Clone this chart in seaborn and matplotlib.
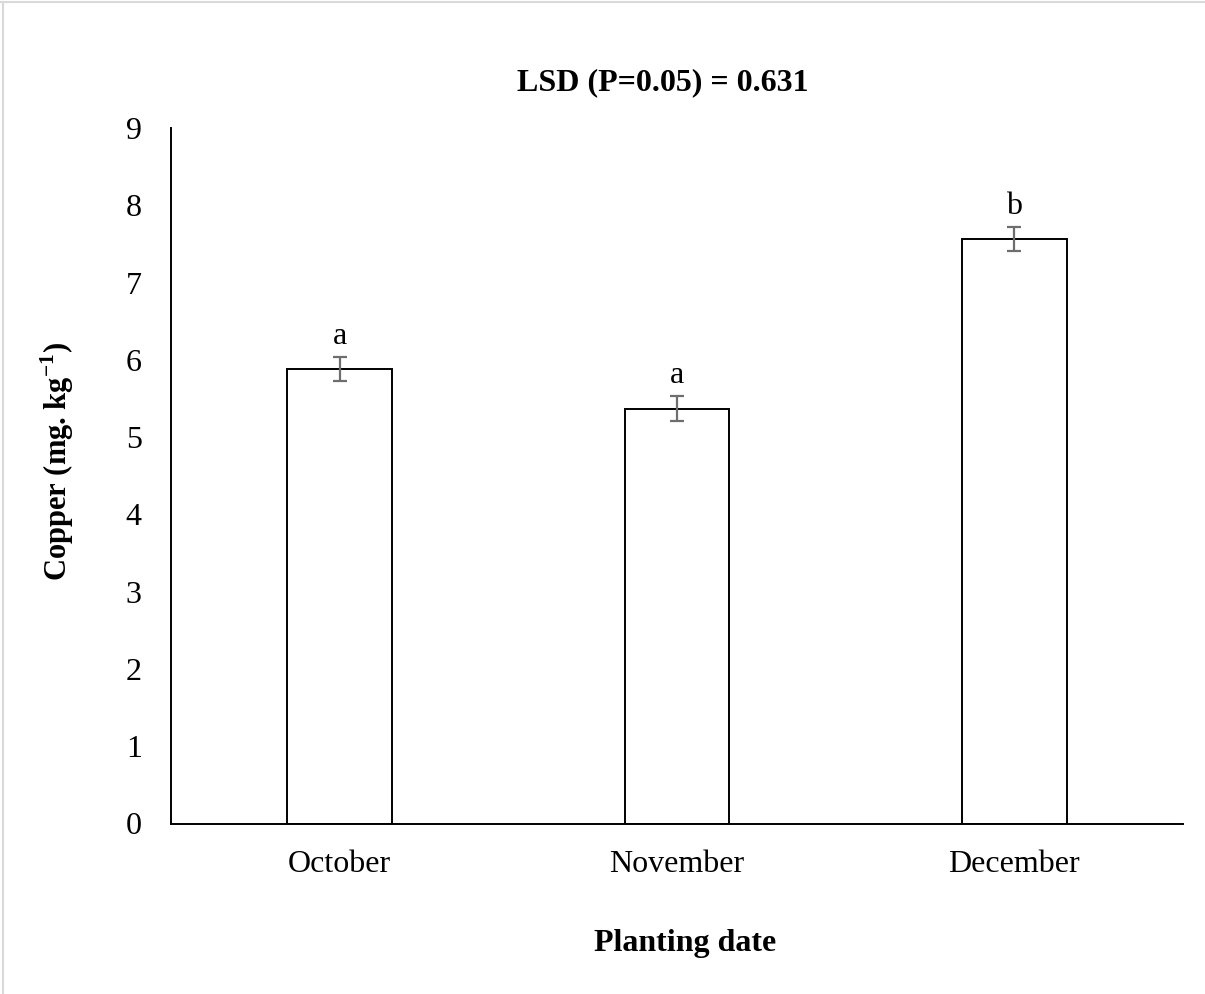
import matplotlib
matplotlib.use("Agg")
import matplotlib.pyplot as plt
import seaborn as sns
import pandas as pd
from matplotlib.lines import Line2D

# Copper content by planting date
months = ["October", "November", "December"]
copper = [5.88, 5.37, 7.56]
std_err = [0.155, 0.16, 0.155]
letters = ["a", "a", "b"]
y_ticks = [0, 1, 2, 3, 4, 5, 6, 7, 8, 9]

sns.set_theme(style="white")
plt.rcParams["font.family"] = ["Liberation Serif", "DejaVu Serif"]
plt.rcParams["mathtext.fontset"] = "custom"
plt.rcParams["mathtext.rm"] = "Liberation Serif"
plt.rcParams["mathtext.bf"] = "Liberation Serif:bold"
plt.rcParams["text.color"] = "black"
plt.rcParams["xtick.color"] = "black"
plt.rcParams["ytick.color"] = "black"

FS = 23

df = pd.DataFrame({"month": months, "copper": copper})

fig = plt.figure(figsize=(12.05, 9.94), dpi=100)
ax = fig.add_axes([171 / 1205, 1 - 823.5 / 994, (1183 - 171) / 1205, (823.5 - 128) / 994])

sns.barplot(data=df, x="month", y="copper", order=months, color="white",
            edgecolor="black", linewidth=1.4, width=0.31, errorbar=None, ax=ax)
for p in ax.patches:
    p.set_facecolor("white")

ax.errorbar(range(len(months)), copper, yerr=std_err, fmt="none",
            ecolor="#6e6e6e", elinewidth=1.6, capsize=5, capthick=1.6, zorder=5)

for i, (v, e, t) in enumerate(zip(copper, std_err, letters)):
    ax.text(i, v + e + 0.08, t, ha="center", va="bottom", fontsize=FS, color="black")

ax.set_xlim(-0.5, 2.5)
ax.set_ylim(0, 9)
ax.set_yticks(y_ticks)
ax.tick_params(axis="both", length=0, labelsize=FS, colors="black")
ax.tick_params(axis="y", pad=21)
ax.tick_params(axis="x", pad=19)
ax.set_xlabel("")
ax.set_ylabel("")

for side in ["top", "right"]:
    ax.spines[side].set_visible(False)
for side in ["left", "bottom"]:
    ax.spines[side].set_color("black")
    ax.spines[side].set_linewidth(1.4)

fig.text(663 / 1205, 1 - 83 / 994, "LSD (P=0.05) = 0.631", ha="center", va="center",
         fontsize=FS, fontweight="bold", color="black")
fig.text(685 / 1205, 1 - 944 / 994, "Planting date", ha="center", va="center",
         fontsize=FS, fontweight="bold", color="black")
fig.text(57 / 1205, 1 - 461 / 994, r"Copper (mg. kg$^{\mathbf{-1}}$)", ha="center",
         va="center", rotation=90, fontsize=22, fontweight="bold", color="black")

# light chart-area frame along the top and left edges
fig.add_artist(Line2D([0, 1], [1 - 2 / 994, 1 - 2 / 994], transform=fig.transFigure,
                      color="#d9d9d9", linewidth=1.5))
fig.add_artist(Line2D([3 / 1205, 3 / 1205], [0, 1 - 2 / 994], transform=fig.transFigure,
                      color="#d9d9d9", linewidth=1.5))

fig.savefig("out.png", dpi=100, facecolor="white")
